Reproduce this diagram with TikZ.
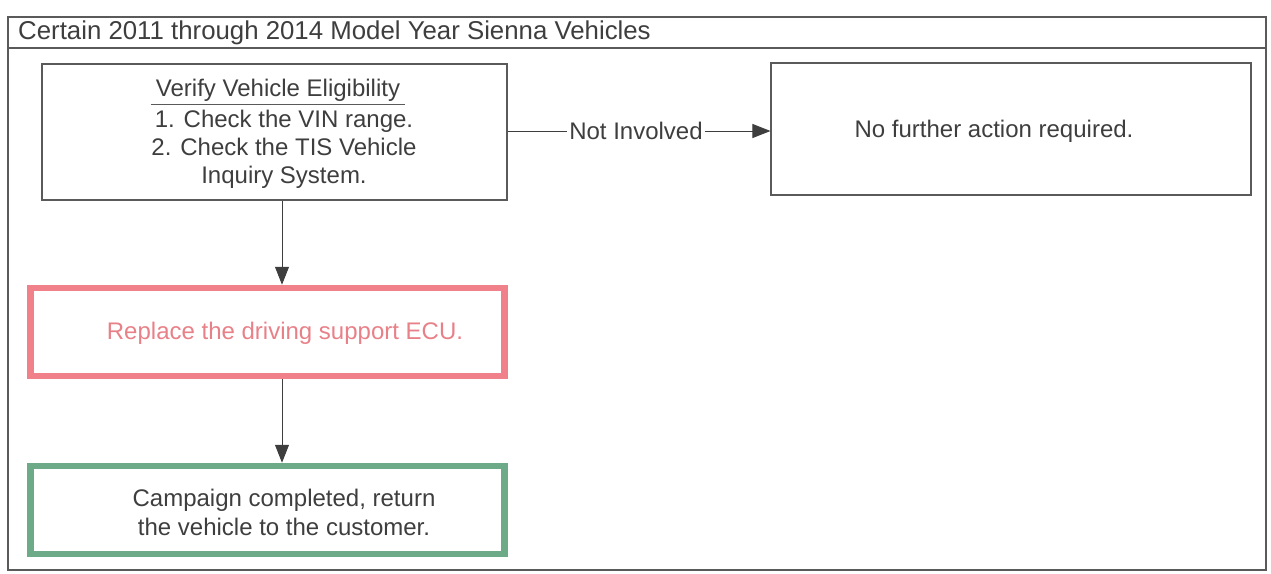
\documentclass[tikz,border=0pt]{standalone}
\usepackage{fontspec}
\setmainfont{Liberation Sans}
\usetikzlibrary{arrows.meta}
\definecolor{inkgray}{RGB}{62,62,62}
\definecolor{framegray}{RGB}{90,90,90}
\definecolor{alertred}{RGB}{240,128,138}
\definecolor{alerttext}{RGB}{232,128,136}
\definecolor{okgreen}{RGB}{108,170,136}
\tikzset{
  plainbox/.style={draw=framegray, line width=1.1pt, inner sep=0pt},
  thickbox/.style={line width=6.5pt, inner sep=0pt, minimum width=474pt, minimum height=88pt},
  label/.style={text=inkgray, font=\fontsize{24}{28}\selectfont, inner sep=2pt},
  bodytext/.style={text=inkgray, font=\fontsize{24}{29}\selectfont, align=center, inner sep=0pt},
  arr/.style={draw=inkgray, line width=0.9pt, -{Triangle[length=18pt, width=14pt]}},
  link/.style={draw=inkgray, line width=0.9pt}
}
\begin{document}
\begin{tikzpicture}[x=1pt, y=-1pt]
  \useasboundingbox (0,0) rectangle (1271,573);
  % outer frame with its header band
  \draw[framegray, line width=1.1pt] (8,17) rectangle (1266,570);
  \draw[framegray, line width=1.1pt] (8,48) -- (1266,48);
  \node[label, anchor=west, font=\fontsize{25.8}{30}\selectfont] (title) at (16,33)
    {Certain 2011 through 2014 Model Year Sienna Vehicles};

  % eligibility check
  \node[plainbox, minimum width=465pt, minimum height=136pt] (verify) at (274.5,132) {};
  \node[label, inner xsep=5pt, inner ysep=3pt] (vhead) at (278,90) {Verify Vehicle Eligibility};
  \draw[framegray, line width=0.9pt] (vhead.south west) -- (vhead.south east);
  \node[label, align=center, inner sep=0pt] (vbody) at (284,149)
    {1. Check the VIN range.\\2. Check the TIS Vehicle\\Inquiry System.};

  % not involved branch
  \node[plainbox, minimum width=480pt, minimum height=132pt] (noaction) at (1011,129) {};
  \node[label] (natext) at (994,131) {No further action required.};
  \node[label] (ni) at (636,131) {Not Involved};
  \draw[link] (verify.east |- ni.west) -- (ni.west);
  \draw[arr] (ni.east) -- (noaction.west |- ni.east);

  % main sequence
  \coordinate (spine) at (282,0);
  \node[thickbox, draw=alertred] (replace) at (267.5,332) {};
  \node[bodytext, text=alerttext] (rtext) at (285,333) {Replace the driving support ECU.};
  \node[thickbox, draw=okgreen] (done) at (267.5,510) {};
  \node[bodytext] (dtext) at (284,512) {Campaign completed, return\\the vehicle to the customer.};

  \draw[arr] (verify.south -| spine) -- (replace.north -| spine);
  \draw[arr] (replace.south -| spine) -- (done.north -| spine);
\end{tikzpicture}
\end{document}
